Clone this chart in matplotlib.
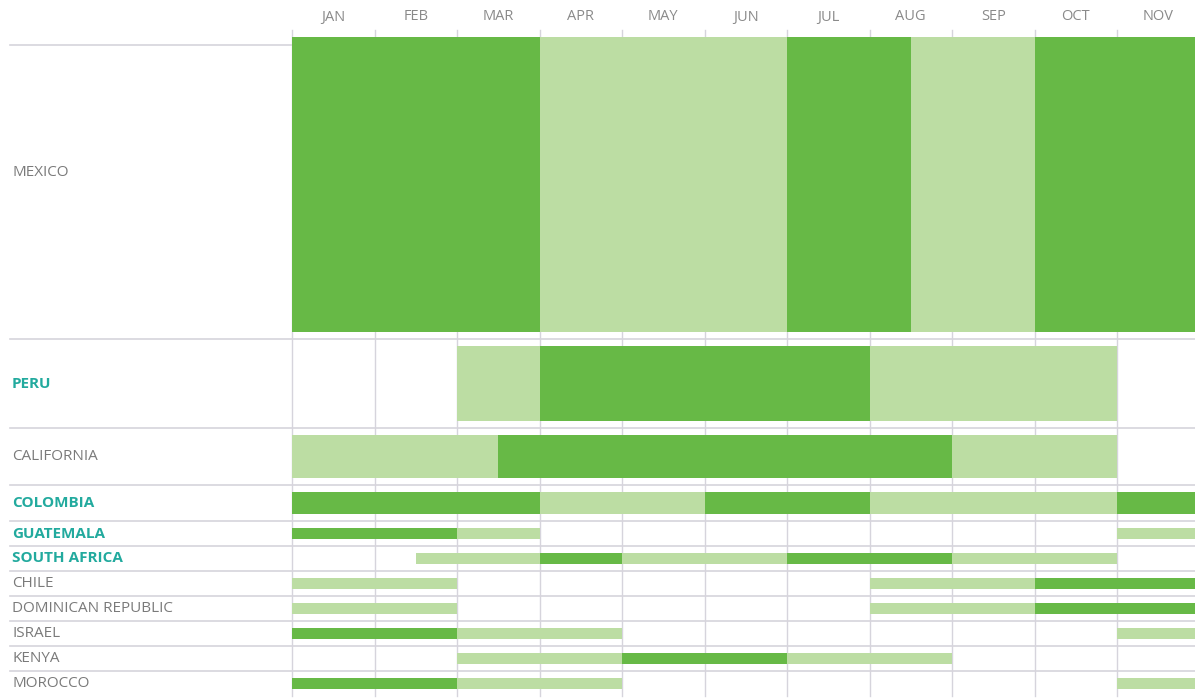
import matplotlib.pyplot as plt
import numpy as np

plt.rcParams['font.family'] = ['Open Sans', 'DejaVu Sans']

months = ['JAN', 'FEB', 'MAR', 'APR', 'MAY', 'JUN',
          'JUL', 'AUG', 'SEP', 'OCT', 'NOV', 'DEC']

countries = ['MEXICO', 'PERU', 'CALIFORNIA', 'COLOMBIA', 'GUATEMALA',
             'SOUTH AFRICA', 'CHILE', 'DOMINICAN REPUBLIC', 'ISRAEL',
             'KENYA', 'MOROCCO']

# relative supply volume -> thickness of each country's band
volume = [295, 75, 43, 22, 11, 11, 11, 11, 11, 11, 11]

# highlighted origins get the bold teal label
highlight = [False, True, False, True, True, True,
             False, False, False, False, False]

# season segments per country: (start month, end month, level)
# level 2 = peak season, level 1 = available
seasons = [
    [(0, 3, 2), (3, 6, 1), (6, 7.5, 2), (7.5, 9, 1), (9, 12, 2)],
    [(2, 3, 1), (3, 7, 2), (7, 10, 1)],
    [(0, 2.5, 1), (2.5, 8, 2), (8, 10, 1)],
    [(0, 3, 2), (3, 5, 1), (5, 7, 2), (7, 10, 1), (10, 12, 2)],
    [(0, 2, 2), (2, 3, 1), (10, 12, 1)],
    [(1.5, 3, 1), (3, 4, 2), (4, 6, 1), (6, 8, 2), (8, 10, 1)],
    [(0, 2, 1), (7, 9, 1), (9, 12, 2)],
    [(0, 2, 1), (7, 9, 1), (9, 12, 2)],
    [(0, 2, 2), (2, 4, 1), (10, 12, 1)],
    [(2, 4, 1), (4, 6, 2), (6, 8, 1)],
    [(0, 2, 2), (2, 4, 1), (10, 12, 1)],
]

level_colors = {1: '#bcdda3', 2: '#67b946'}
grid_color = '#d6d4dc'
teal = '#22aa9e'
gray_text = '#7a7a7a'

pad = 7
row_h = np.array(volume) + 2 * pad
row_top = np.concatenate([[0], np.cumsum(row_h)[:-1]])
total = row_h.sum()

W, H = 1195, 699
fig = plt.figure(figsize=(W / 100, H / 100), dpi=100)
fig.patch.set_facecolor('white')
left_px, top_px = 292, 30
ax = fig.add_axes([left_px / W, (H - top_px - total) / H,
                   (W - left_px) / W, total / H])
month_px = 82.5
x_max = (W - left_px) / month_px
ax.set_xlim(0, x_max)
ax.set_ylim(total, 0)
ax.axis('off')

label_x = (10 - left_px) / month_px
text_x = (12 - left_px) / month_px

# vertical month boundaries; the top padding leaves short ticks visible
for m in range(12):
    ax.plot([m, m], [0, total], color=grid_color, lw=1, zorder=0,
            clip_on=False)

# row separators (header rule plus one between every row)
ax.plot([label_x, 12], [15, 15], color=grid_color, lw=1.2, zorder=0,
        clip_on=False)
for t in row_top[1:]:
    ax.plot([label_x, 12], [t, t], color=grid_color, lw=1.2, zorder=0,
            clip_on=False)

for i, name in enumerate(countries):
    y0 = row_top[i] + pad
    for start, end, level in seasons[i]:
        ax.barh(y0, end - start, left=start, height=volume[i], align='edge',
                color=level_colors[level], linewidth=0, zorder=2)
    yc = row_top[i] + row_h[i] / 2
    if i == 0:
        yc -= 12
    if highlight[i]:
        ax.text(text_x, yc, name, color=teal, fontsize=11, fontweight='bold',
                ha='left', va='center', clip_on=False)
    else:
        ax.text(text_x, yc, name, color=gray_text, fontsize=11,
                ha='left', va='center', clip_on=False)

# month headers, only for columns whose centre is inside the view
for m, name in enumerate(months):
    if m + 0.5 < x_max:
        ax.text(m + 0.5, -13, name, color='#8a8a8a', fontsize=10.5,
                ha='center', va='center', clip_on=False)

fig.savefig('out.png', dpi=100, facecolor='white')
